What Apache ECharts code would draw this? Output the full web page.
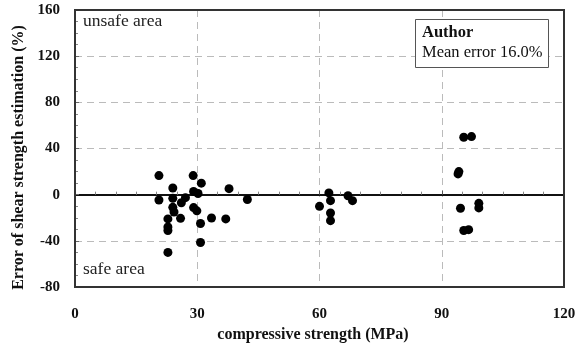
<!DOCTYPE html>
<html>
<head>
<meta charset="utf-8">
<script src="https://cdn.jsdelivr.net/npm/echarts@6/dist/echarts.min.js"></script>
<style>
html,body{margin:0;padding:0;background:#fff;}
#chart{width:584px;height:343px;}
</style>
</head>
<body>
<div id="chart"></div>
<script>
// Data
const strength = [20.6, 20.6, 24.0, 24.0, 26.1, 27.1, 24.0, 24.3, 22.8, 25.9, 22.8, 22.8, 22.8,
  29.0, 31.0, 29.1, 30.2, 37.8, 42.3, 29.1, 29.9, 33.5, 37.0, 30.8, 30.8,
  62.3, 62.7, 60.0, 62.7, 62.7, 67.0, 68.1,
  95.4, 97.3, 94.0, 94.2, 94.6, 99.1, 99.1, 95.4, 96.6];
const errorPct = [16.5, -4.6, 5.8, -3.2, -7.0, -2.6, -11.0, -15.0, -21.0, -20.5, -28.0, -31.0, -50.0,
  16.5, 10.0, 2.8, 1.0, 5.2, -4.2, -11.2, -14.0, -20.2, -21.0, -25.0, -41.4,
  1.5, -5.2, -10.1, -15.9, -22.5, -0.9, -5.2,
  49.7, 50.3, 18.0, 20.0, -11.8, -7.5, -11.5, -31.0, -30.3];
const xTicks = [0, 30, 60, 90, 120];
const yTicks = [-80, -40, 0, 40, 80, 120, 160];
const xTitle = 'compressive strength (MPa)';
const yTitle = 'Error of shear strength estimation (%)';
const unsafeText = 'unsafe area';
const safeText = 'safe area';
const legendTitle = 'Author';
const legendText = 'Mean error 16.0%';

const serif = '"Liberation Serif", "Times New Roman", serif';
const points = strength.map((x, i) => [x, errorPct[i]]);

const chart = echarts.init(document.getElementById('chart'), null, {renderer: 'canvas'});
chart.setOption({
  animation: false,
  backgroundColor: '#fff',
  grid: {left: 75, right: 20, top: 10, bottom: 56, outerBoundsMode: 'none', containLabel: false, show: true, borderColor: '#333', borderWidth: 2, backgroundColor: 'transparent', z: 5},
  xAxis: [{
    type: 'value', min: xTicks[0], max: xTicks[xTicks.length - 1], interval: 30,
    name: xTitle, nameLocation: 'middle', nameGap: 38,
    nameTextStyle: {fontFamily: serif, fontWeight: 'bold', fontSize: 16, color: '#111', padding: [0, 13, 0, 0]},
    axisLine: {show: false, onZero: false},
    axisTick: {show: false},
    axisLabel: {fontFamily: serif, fontWeight: 'bold', fontSize: 15, color: '#111', margin: 20},
    splitLine: {show: true, showMinLine: false, showMaxLine: false, lineStyle: {type: [7, 5], color: '#bbb', width: 1}}
  }, {
    type: 'value', min: xTicks[0], max: xTicks[xTicks.length - 1], interval: 30, position: 'bottom',
    axisLine: {show: true, onZero: true, lineStyle: {color: '#111', width: 2}},
    axisTick: {show: true, inside: true, length: 4, lineStyle: {color: '#555'}},
    minorTick: {show: true, splitNumber: 6, length: 3, lineStyle: {color: '#888'}},
    axisLabel: {show: false},
    splitLine: {show: false}
  }],
  yAxis: {
    type: 'value', min: yTicks[0], max: yTicks[yTicks.length - 1], interval: 40,
    name: yTitle, nameLocation: 'middle', nameGap: 46,
    nameTextStyle: {fontFamily: serif, fontWeight: 'bold', fontSize: 16, color: '#111', padding: [0, 18, 0, 0]},
    axisLine: {show: false},
    axisTick: {show: true, inside: true, length: 4, lineStyle: {color: '#666'}},
    minorTick: {show: true, splitNumber: 4, length: 3, lineStyle: {color: '#888'}},
    axisLabel: {fontFamily: serif, fontWeight: 'bold', fontSize: 15, color: '#111', margin: 15},
    splitLine: {show: true, showMinLine: false, showMaxLine: false, lineStyle: {type: [7, 5], color: '#bbb', width: 1}}
  },
  series: [{
    type: 'scatter', xAxisIndex: 0, data: points, symbolSize: 9,
    itemStyle: {color: '#000', opacity: 1}, z: 10
  }],
  graphic: [
    {type: 'text', left: 83, top: 12, z: 20, style: {text: unsafeText, font: '17.5px ' + serif, fill: '#222'}},
    {type: 'text', left: 83, top: 260, z: 20, style: {text: safeText, font: '17.5px ' + serif, fill: '#222'}},
    {type: 'rect', left: 415, top: 19, z: 20, shape: {width: 133, height: 48}, style: {fill: '#fff', stroke: '#555', lineWidth: 1}},
    {type: 'text', left: 422, top: 24, z: 21, style: {text: legendTitle, font: 'bold 16.5px ' + serif, fill: '#111'}},
    {type: 'text', left: 422, top: 44, z: 21, style: {text: legendText, font: '16.5px ' + serif, fill: '#111'}}
  ]
});
</script>
</body>
</html>
